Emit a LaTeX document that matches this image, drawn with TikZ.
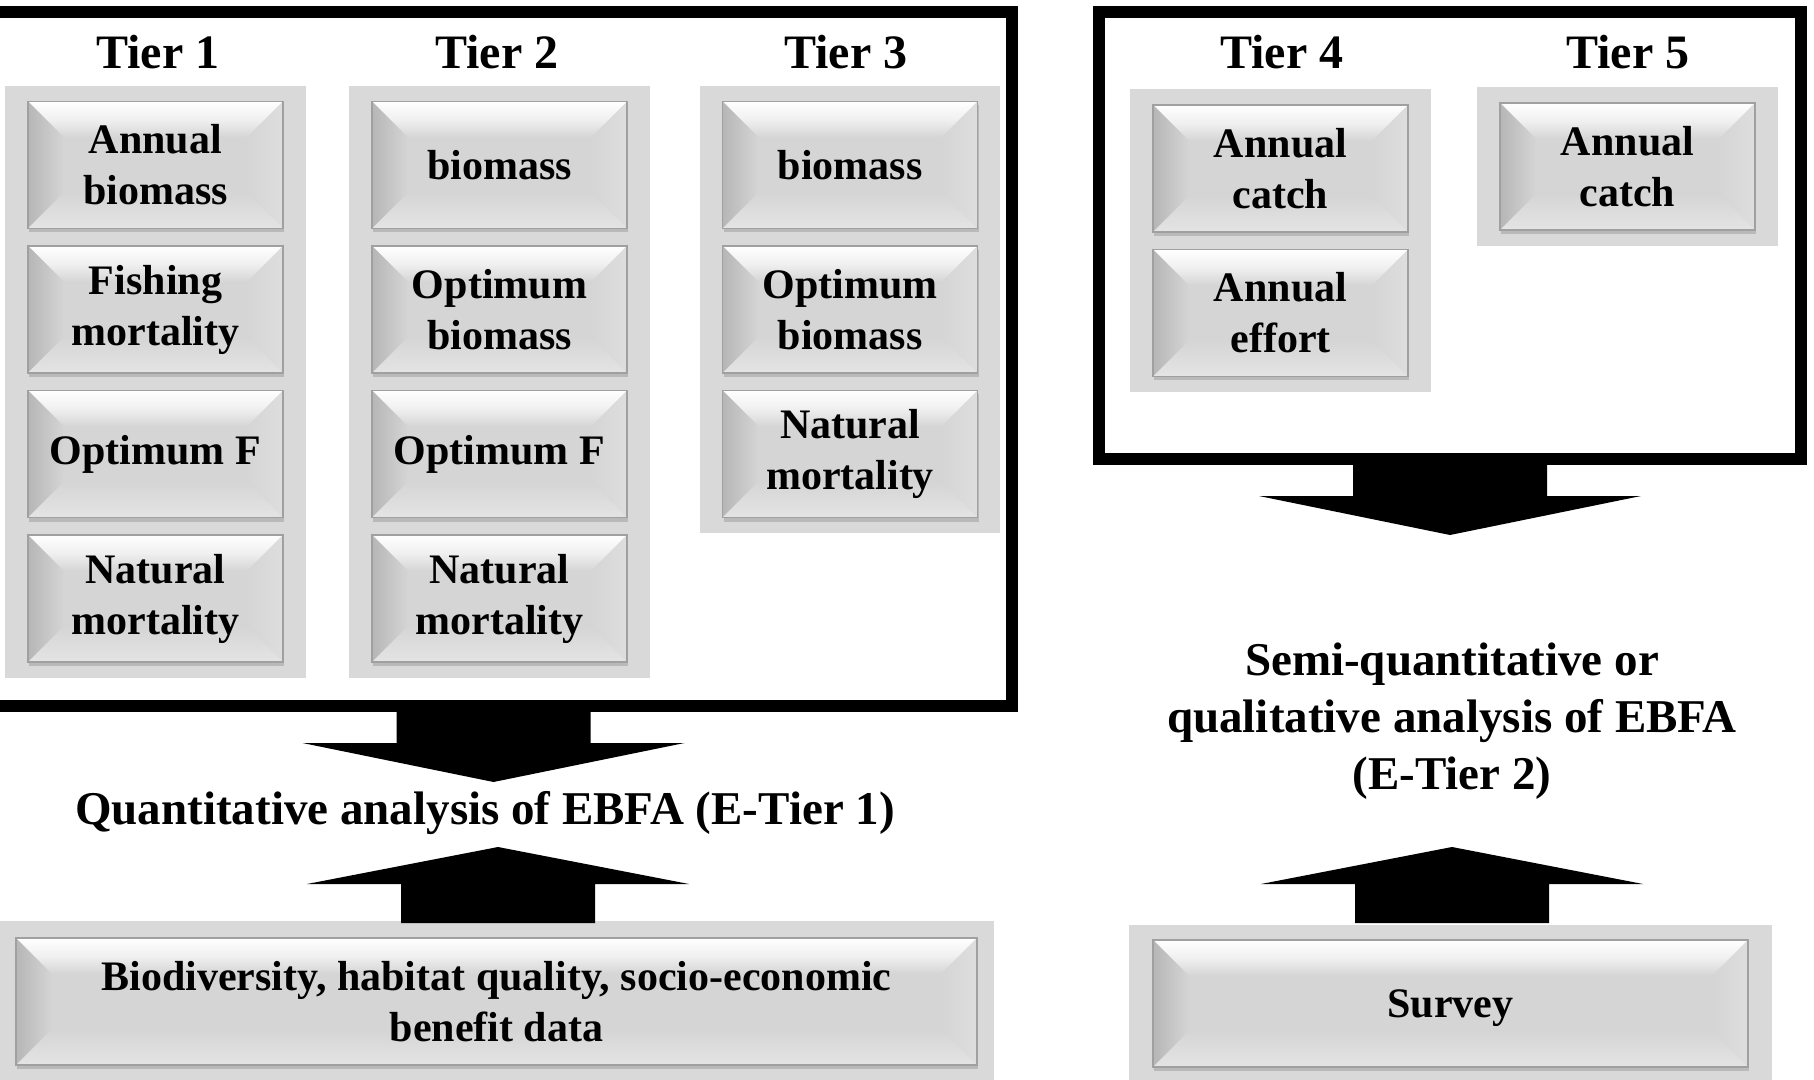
\documentclass[tikz,border=0pt]{standalone}
\usepackage{fontspec}
\setmainfont{Liberation Serif}
\usetikzlibrary{positioning,fit,backgrounds,shadows,calc}
\definecolor{panelgray}{RGB}{217,217,217}
\definecolor{boxmid}{RGB}{213,213,213}
\definecolor{boxedge}{RGB}{160,160,160}
\definecolor{boxleft}{RGB}{182,182,182}
\definecolor{boxright}{RGB}{222,222,222}
\definecolor{boxlow}{RGB}{228,228,228}

\tikzset{
  bevel/.style={path picture={
      \coordinate (pnw) at (path picture bounding box.north west);
      \coordinate (pne) at (path picture bounding box.north east);
      \coordinate (psw) at (path picture bounding box.south west);
      \coordinate (pse) at (path picture bounding box.south east);
      \shade[top color=white, bottom color=boxmid, middle color=gray!12]
        (pnw) -- (pne) -- ([shift={(-18pt,-18pt)}]pne) -- ([shift={(18pt,-18pt)}]pnw) -- cycle;
      \shade[left color=boxleft, right color=boxmid]
        (pnw) -- ([shift={(18pt,-18pt)}]pnw) -- ([shift={(18pt,18pt)}]psw) -- (psw) -- cycle;
      \shade[left color=boxmid, right color=boxright]
        (pne) -- (pse) -- ([shift={(-18pt,18pt)}]pse) -- ([shift={(-18pt,-18pt)}]pne) -- cycle;
      \shade[top color=boxmid, bottom color=boxlow]
        (psw) -- (pse) -- ([shift={(-18pt,18pt)}]pse) -- ([shift={(18pt,18pt)}]psw) -- cycle;
    }}
}

\begin{document}
\begin{tikzpicture}[
    x=0.5pt, y=-0.5pt,
    every node/.style={font=\fontsize{21}{25.5}\selectfont\bfseries},
    box/.style={draw=boxedge, line width=0.6pt, fill=boxmid, minimum width=127.5pt, minimum height=63.5pt,
      align=center, inner sep=2pt, bevel, drop shadow={shadow xshift=0.5pt, shadow yshift=-2pt, opacity=0.35}},
    panel/.style={fill=panelgray, inner xsep=11pt, inner ysep=7.5pt},
    tier/.style={font=\fontsize{24}{28}\selectfont\bfseries},
    frame/.style={draw, line width=6pt},
    result/.style={font=\fontsize{23.5}{28.5}\selectfont\bfseries, align=center},
    downarrow/.pic={\fill (-97,0) -- (97,0) -- (97,37) -- (191,37) -- (0,76) -- (-191,37) -- (-97,37) -- cycle;},
    uparrow/.pic={\fill (0,0) -- (191,37) -- (97,37) -- (97,76) -- (-97,76) -- (-97,37) -- (-191,37) -- cycle;}
  ]
  \useasboundingbox (0,0) rectangle (1814,1080);

  % frames
  \draw[frame] (-20,12) rectangle (1012,706);
  \draw[frame] (1098.5,12) rectangle (1801,459);

  % tier headings
  \node[tier] (t1) at (158,52) {Tier 1};
  \node[tier] (t2) at (497,52) {Tier 2};
  \node[tier] (t3) at (846,52) {Tier 3};
  \node[tier] (t4) at (1282,52) {Tier 4};
  \node[tier] (t5) at (1628,52) {Tier 5};

  % data boxes
  \node[box] (a1) at (155.5,165) {Annual\\biomass};
  \node[box] (a2) at (155.5,309.5) {Fishing\\mortality};
  \node[box] (a3) at (155.5,454) {Optimum F};
  \node[box] (a4) at (155.5,598.5) {Natural\\mortality};

  \node[box] (b1) at (499.5,165) {biomass};
  \node[box] (b2) at (499.5,309.5) {Optimum\\biomass};
  \node[box] (b3) at (499.5,454) {Optimum F};
  \node[box] (b4) at (499.5,598.5) {Natural\\mortality};

  \node[box] (c1) at (850,165) {biomass};
  \node[box] (c2) at (850,309.5) {Optimum\\biomass};
  \node[box] (c3) at (850,454) {Natural\\mortality};

  \node[box] (d1) at (1280.5,168.5) {Annual\\catch};
  \node[box] (d2) at (1280.5,313) {Annual\\effort};

  \node[box] (e1) at (1627.5,166.5) {Annual\\catch};

  \node[box, minimum width=480.5pt] (bio) at (496.5,1001.5) {Biodiversity, habitat quality, socio-economic\\benefit data};
  \node[box, minimum width=297.5pt] (svy) at (1450.5,1003.5) {\raisebox{-7pt}[0pt][0pt]{Survey}};

  % grey panels behind the boxes
  \begin{scope}[on background layer]
    \node[panel, fit=(a1)(a4)] (p1) {};
    \node[panel, fit=(b1)(b4)] (p2) {};
    \node[panel, fit=(c1)(c3)] (p3) {};
    \node[panel, fit=(d1)(d2)] (p4) {};
    \node[panel, fit=(e1)] (p5) {};
    \node[panel, inner xsep=8pt, inner ysep=8pt, fit=(bio)] (p6) {};
    \node[panel, inner xsep=11.5pt, inner ysep=7pt, fit=(svy)] (p7) {};
  \end{scope}

  % results
  \node[result] (q1) at (485,813) {Quantitative analysis of EBFA (E-Tier 1)};
  \node[result] (q2) at (1452,721) {Semi-quantitative or\\qualitative analysis of EBFA\\(E-Tier 2)};

  % block arrows
  \coordinate (lout) at (493.5,706);
  \coordinate (rout) at (1450,459);
  \coordinate (lin) at (498,847);
  \coordinate (rin) at (1452,847);
  \pic at (lout) {downarrow};
  \pic at (rout) {downarrow};
  \pic at (lin) {uparrow};
  \pic at (rin) {uparrow};
\end{tikzpicture}
\end{document}
